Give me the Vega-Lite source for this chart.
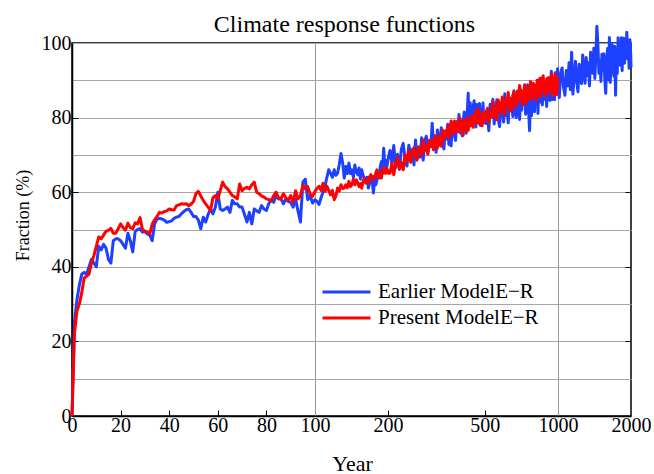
{
"$schema": "https://vega.github.io/schema/vega-lite/v6.json",
"width": 559, "height": 373,
"autosize": {"type": "none"},
"padding": {"left": 72, "top": 43, "right": 23, "bottom": 58},
"background": "white",
"title": {"text": "Climate response functions", "font": "Liberation Serif", "fontSize": 24, "fontWeight": "normal", "color": "black", "anchor": "middle", "frame": "group", "dx": -7, "dy": 31, "offset": 0, "baseline": "alphabetic"},
"config": {"view": {"stroke": "black", "strokeWidth": 1.5}, "font": "Liberation Serif"},
"data": {"values": [
{"t":0,"e":0,"p":0},{"t":1,"e":25,"p":22},{"t":2,"e":31,"p":28},{"t":3,"e":35,"p":30},{"t":4,"e":38,"p":33},{"t":5,"e":38.5,"p":37},{"t":6,"e":38,"p":37.5},{"t":7,"e":40,"p":38},{"t":8,"e":42,"p":41},{"t":9,"e":41,"p":43},
{"t":10,"e":40,"p":45.5},{"t":11,"e":45.5,"p":48},{"t":12,"e":44.5,"p":47.5},{"t":13,"e":46,"p":48.5},{"t":14,"e":45,"p":49.5},{"t":15,"e":42,"p":49.8},{"t":16,"e":41,"p":50.3},{"t":17,"e":47,"p":49},{"t":18,"e":47.5,"p":49},{"t":19,"e":47.5,"p":50.2},
{"t":20,"e":47,"p":51.5},{"t":21,"e":46,"p":50.5},{"t":22,"e":45,"p":49.8},{"t":23,"e":49,"p":51.7},{"t":24,"e":47,"p":50.5},{"t":25,"e":44,"p":50.2},{"t":26,"e":49.5,"p":51.8},{"t":27,"e":50,"p":51.5},{"t":28,"e":50.2,"p":53.2},{"t":29,"e":49.3,"p":50},
{"t":30,"e":49.5,"p":49.6},{"t":31,"e":48.8,"p":49.3},{"t":32,"e":48.5,"p":48.8},{"t":33,"e":47,"p":51.4},{"t":34,"e":51.5,"p":52.6},{"t":35,"e":52.8,"p":53.5},{"t":36,"e":53,"p":54.6},{"t":37,"e":52.8,"p":54.4},{"t":38,"e":52.5,"p":54.8},{"t":39,"e":51.9,"p":55},
{"t":40,"e":52.1,"p":55.5},{"t":41,"e":52.3,"p":55.3},{"t":42,"e":53,"p":55.2},{"t":43,"e":53.3,"p":56.4},{"t":44,"e":53.5,"p":56.6},{"t":45,"e":54.2,"p":56.9},{"t":46,"e":54.8,"p":56.8},{"t":47,"e":55.3,"p":56.9},{"t":48,"e":55.5,"p":56.4},{"t":49,"e":54.6,"p":56.8},
{"t":50,"e":53.5,"p":57.5},{"t":51,"e":53.5,"p":59.6},{"t":52,"e":52.5,"p":60.2},{"t":53,"e":50.2,"p":59},{"t":54,"e":53.3,"p":57.8},{"t":55,"e":52,"p":56.9},{"t":56,"e":54,"p":56},{"t":57,"e":55.5,"p":55.1},{"t":58,"e":54.2,"p":58.5},{"t":59,"e":56,"p":59.1},
{"t":60,"e":60,"p":58.2},{"t":61,"e":55.5,"p":60.4},{"t":62,"e":55.1,"p":62.7},{"t":63,"e":55.5,"p":61.5},{"t":64,"e":56,"p":60.9},{"t":65,"e":54.6,"p":60},{"t":66,"e":57.8,"p":59.1},{"t":67,"e":56.9,"p":58.7},{"t":68,"e":56.9,"p":58.2},{"t":69,"e":56,"p":62.2},
{"t":70,"e":56,"p":60.4},{"t":71,"e":54,"p":61},{"t":72,"e":52,"p":61.3},{"t":73,"e":54.6,"p":60.9},{"t":74,"e":51.5,"p":62},{"t":75,"e":55.5,"p":62.7},{"t":76,"e":55,"p":60},{"t":77,"e":54.6,"p":59.6},{"t":78,"e":56.4,"p":59},{"t":79,"e":55.5,"p":58.7},
{"t":80,"e":55.1,"p":58.2},{"t":81,"e":57,"p":58},{"t":82,"e":57.8,"p":57.8},{"t":83,"e":57.3,"p":59.1},{"t":84,"e":59.1,"p":60},{"t":85,"e":58.2,"p":58.5},{"t":86,"e":58.2,"p":58.2},{"t":87,"e":56.9,"p":59.6},{"t":88,"e":58.2,"p":58.5},{"t":89,"e":57.5,"p":57.8},
{"t":90,"e":57.3,"p":59.1},{"t":91,"e":56,"p":57.3},{"t":92,"e":58.2,"p":60.4},{"t":93,"e":55,"p":58.2},{"t":94,"e":52,"p":59},{"t":95,"e":62.7,"p":61.8},{"t":96,"e":63.5,"p":60.9},{"t":97,"e":58,"p":61.5},{"t":98,"e":59,"p":59.5},{"t":99,"e":57.1,"p":58.9},
{"t":100,"e":58,"p":60.2},{"t":102,"e":57.5,"p":61},{"t":104,"e":56.7,"p":61.6},{"t":106,"e":58.5,"p":60.5},{"t":108,"e":60,"p":62.4},{"t":110,"e":61.6,"p":60.2},{"t":112,"e":64,"p":61.6},{"t":114,"e":66,"p":60.5},{"t":116,"e":65.1,"p":59.3},{"t":118,"e":64,"p":60.5},
{"t":120,"e":66,"p":58},{"t":122,"e":64.5,"p":59},{"t":124,"e":65.1,"p":61.1},{"t":126,"e":67.5,"p":60.3},{"t":128,"e":70.4,"p":62},{"t":130,"e":67.8,"p":61},{"t":132,"e":63.8,"p":61.1},{"t":134,"e":66.9,"p":62},{"t":136,"e":65,"p":61.2},{"t":138,"e":67.8,"p":62.9},
{"t":140,"e":65,"p":61.5},{"t":142,"e":66,"p":62},{"t":144,"e":64,"p":63.5},{"t":146,"e":67.3,"p":62},{"t":148,"e":65.5,"p":63.3},{"t":150,"e":64.7,"p":62.5},{"t":152,"e":66.5,"p":61.5},{"t":154,"e":63.5,"p":62.3},{"t":156,"e":66,"p":61.1},{"t":158,"e":64.5,"p":62.9},
{"t":160,"e":63.8,"p":63.8},{"t":162,"e":62.5,"p":62.5},{"t":164,"e":64,"p":63.2},{"t":166,"e":61.1,"p":62.4},{"t":168,"e":62.5,"p":64.2},{"t":170,"e":64.2,"p":64.7},{"t":172,"e":63,"p":63.4},{"t":174,"e":59.8,"p":64.2},{"t":176,"e":63.3,"p":63.6},{"t":178,"e":62,"p":65.2},
{"t":180,"e":63.3,"p":66},{"t":182,"e":65.1,"p":64.5},{"t":184,"e":64,"p":63.8},{"t":186,"e":67,"p":65},{"t":188,"e":68.2,"p":63.8},{"t":190,"e":66,"p":66.4},{"t":192,"e":71.8,"p":65.1},{"t":194,"e":67,"p":66.4},{"t":196,"e":68.5,"p":65.1},{"t":198,"e":66.9,"p":66.3},
{"t":200,"e":69,"p":65.1},{"t":204,"e":71.2,"p":65.1},{"t":208,"e":67.8,"p":67.8},{"t":212,"e":72.5,"p":64.7},{"t":216,"e":66.6,"p":67.7},{"t":220,"e":70.2,"p":69.3},{"t":224,"e":66.1,"p":66.3},{"t":228,"e":71.5,"p":68},{"t":232,"e":73.1,"p":66},{"t":236,"e":68.9,"p":69.9},
{"t":240,"e":67,"p":68.3},{"t":244,"e":72.6,"p":71.2},{"t":248,"e":69.7,"p":68},{"t":252,"e":71.5,"p":70.5},{"t":256,"e":67.3,"p":71.9},{"t":260,"e":74,"p":69.6},{"t":264,"e":69.1,"p":68.6},{"t":268,"e":71.5,"p":72.2},{"t":272,"e":69.4,"p":71.7},{"t":276,"e":74.6,"p":69.9},
{"t":280,"e":68.6,"p":74},{"t":284,"e":73.8,"p":71.2},{"t":288,"e":75,"p":72.4},{"t":292,"e":70.5,"p":70.2},{"t":296,"e":73.4,"p":73.9},{"t":300,"e":72.2,"p":72.3},{"t":304,"e":78.5,"p":73.7},{"t":308,"e":71.9,"p":71.4},{"t":312,"e":75.1,"p":75.1},{"t":316,"e":70.7,"p":72.6},
{"t":320,"e":76.7,"p":71.8},{"t":324,"e":74.7,"p":75.1},{"t":328,"e":72.6,"p":74.2},{"t":332,"e":77.3,"p":72.3},{"t":336,"e":73.5,"p":76.6},{"t":340,"e":71.6,"p":74.1},{"t":344,"e":76.4,"p":76.2},{"t":348,"e":74.3,"p":75.4},{"t":352,"e":78.2,"p":77.6},{"t":356,"e":72.8,"p":74.5},
{"t":360,"e":76.3,"p":77.2},{"t":364,"e":72.4,"p":79.1},{"t":368,"e":77.4,"p":75.8},{"t":372,"e":78.5,"p":76.9},{"t":376,"e":75.2,"p":79.1},{"t":380,"e":73.9,"p":75.9},{"t":384,"e":78.9,"p":78.8},{"t":388,"e":76.3,"p":78.1},{"t":392,"e":80.8,"p":76.3},{"t":396,"e":75.9,"p":79.8},
{"t":400,"e":79,"p":77},{"t":404,"e":75.1,"p":78.9},{"t":408,"e":78.8,"p":75.3},{"t":412,"e":81.5,"p":79.3},{"t":416,"e":77.5,"p":77.4},{"t":420,"e":75.8,"p":76.5},{"t":424,"e":81.1,"p":80},{"t":428,"e":86.5,"p":76.6},{"t":432,"e":77.6,"p":79.1},{"t":436,"e":84,"p":77.8},
{"t":440,"e":79.6,"p":80.4},{"t":444,"e":77.9,"p":79.4},{"t":448,"e":82.8,"p":77.4},{"t":452,"e":84.5,"p":80.6},{"t":456,"e":81.9,"p":79.3},{"t":460,"e":77.5,"p":81.8},{"t":464,"e":83.5,"p":78.6},{"t":468,"e":81.1,"p":80.5},{"t":472,"e":79.2,"p":82.3},{"t":476,"e":83.8,"p":78.3},
{"t":480,"e":77.9,"p":80.8},{"t":484,"e":82.1,"p":79.8},{"t":488,"e":79.9,"p":77.8},{"t":492,"e":83.9,"p":81.3},{"t":496,"e":78.6,"p":80.1},{"t":500,"e":81,"p":79},
{"t":507,"e":78.4,"p":81.5},{"t":514,"e":81.2,"p":82.5},{"t":521,"e":76.5,"p":78.7},{"t":528,"e":83.6,"p":81.3},{"t":535,"e":80.1,"p":80.3},{"t":542,"e":84.9,"p":84.3},{"t":549,"e":78.3,"p":80.2},{"t":556,"e":82.7,"p":83},{"t":563,"e":84.8,"p":79.4},{"t":570,"e":79.7,"p":84.7},
{"t":577,"e":77.6,"p":83},{"t":584,"e":83.9,"p":81.4},{"t":591,"e":82.7,"p":85.5},{"t":598,"e":78.8,"p":82.3},{"t":605,"e":86.4,"p":80.8},{"t":612,"e":80.5,"p":85.1},{"t":619,"e":82.9,"p":83.3},{"t":626,"e":78.6,"p":86.7},{"t":633,"e":85.4,"p":82.1},{"t":640,"e":82.3,"p":85},
{"t":647,"e":84.8,"p":81.7},{"t":654,"e":80.3,"p":86},{"t":661,"e":87.2,"p":86.9},{"t":668,"e":82.2,"p":84.1},{"t":675,"e":80,"p":82.9},{"t":682,"e":86,"p":87.1},{"t":689,"e":83.9,"p":84.8},{"t":696,"e":79.5,"p":88.6},{"t":703,"e":87.5,"p":84.3},{"t":710,"e":82,"p":87},
{"t":717,"e":85.8,"p":83.5},{"t":724,"e":83.6,"p":86.5},{"t":731,"e":87.6,"p":88.8},{"t":738,"e":80.9,"p":85.3},{"t":745,"e":85.6,"p":83.8},{"t":752,"e":88.8,"p":88.2},{"t":759,"e":82,"p":87.4},{"t":766,"e":76.5,"p":85.1},{"t":773,"e":87.2,"p":89.7},{"t":780,"e":80.5,"p":86.6},
{"t":787,"e":86.3,"p":85.1},{"t":794,"e":85,"p":89.2},{"t":801,"e":81.6,"p":86.4},{"t":808,"e":88.6,"p":88.4},{"t":815,"e":83.7,"p":84.6},{"t":822,"e":87.6,"p":90},{"t":829,"e":81.1,"p":87.9},{"t":836,"e":89.3,"p":86.4},{"t":843,"e":85.9,"p":90.5},{"t":850,"e":84.2,"p":85.6},
{"t":857,"e":90.6,"p":89.3},{"t":864,"e":83.4,"p":87.6},{"t":871,"e":88,"p":91.2},{"t":878,"e":84.9,"p":86.8},{"t":885,"e":89.6,"p":89},{"t":892,"e":87.5,"p":85.8},{"t":899,"e":83,"p":90.4},{"t":906,"e":88.9,"p":87.9},{"t":913,"e":85.8,"p":90.7},{"t":920,"e":90.6,"p":86.9},
{"t":927,"e":84.6,"p":90.5},{"t":934,"e":88.5,"p":87.5},{"t":941,"e":92.4,"p":91.5},{"t":948,"e":84.8,"p":86.4},{"t":955,"e":90.1,"p":89.4},{"t":962,"e":88.4,"p":85.9},{"t":969,"e":84.8,"p":90.4},{"t":976,"e":92,"p":91.9},{"t":983,"e":89.8,"p":88},{"t":990,"e":87.8,"p":86.2},
{"t":997,"e":93.1,"p":90.7},{"t":1000,"e":88.7,"p":88},
{"t":1014,"e":85.4},{"t":1028,"e":92.1},{"t":1042,"e":93.3},{"t":1056,"e":88.2},{"t":1070,"e":86},{"t":1084,"e":92.6},{"t":1098,"e":88.5},{"t":1112,"e":94.7},{"t":1126,"e":87.5},{"t":1140,"e":97.5},
{"t":1154,"e":86.3},{"t":1168,"e":91.3},{"t":1182,"e":95.1},{"t":1196,"e":89.4},{"t":1210,"e":86.9},{"t":1224,"e":94.3},{"t":1238,"e":93},{"t":1252,"e":89.1},{"t":1266,"e":96.8},{"t":1280,"e":91.8},
{"t":1294,"e":89.2},{"t":1308,"e":96.1},{"t":1322,"e":91.3},{"t":1336,"e":94.7},{"t":1350,"e":88.5},{"t":1364,"e":97.5},{"t":1378,"e":94.2},{"t":1392,"e":91.9},{"t":1406,"e":98.6},{"t":1420,"e":90.5},
{"t":1434,"e":96.8},{"t":1448,"e":104.5},{"t":1462,"e":99.6},{"t":1476,"e":91.9},{"t":1490,"e":95.2},{"t":1504,"e":89.7},{"t":1518,"e":97},{"t":1532,"e":92.6},{"t":1546,"e":97.1},{"t":1560,"e":90.6},
{"t":1574,"e":86.5},{"t":1588,"e":95.5},{"t":1602,"e":98.5},{"t":1616,"e":90.1},{"t":1630,"e":101.5},{"t":1644,"e":89.4},{"t":1658,"e":97.1},{"t":1672,"e":99.6},{"t":1686,"e":93.6},{"t":1700,"e":91.1},
{"t":1714,"e":99.1},{"t":1728,"e":86},{"t":1742,"e":97.9},{"t":1756,"e":91.8},{"t":1770,"e":101.4},{"t":1784,"e":94.1},{"t":1798,"e":97.4},{"t":1812,"e":94.1},{"t":1826,"e":101.4},{"t":1840,"e":92.6},
{"t":1854,"e":99.8},{"t":1868,"e":101.3},{"t":1882,"e":94.6},{"t":1896,"e":98.5},{"t":1910,"e":96.6},{"t":1924,"e":102.9},{"t":1938,"e":95.7},{"t":1952,"e":100},{"t":1966,"e":93.2},{"t":1980,"e":100.9},
{"t":1994,"e":97.2},{"t":2000,"e":93.5}
]},
"transform": [{"fold": ["e", "p"], "as": ["series", "value"]}],
"encoding": {
  "x": {"field": "t", "type": "quantitative",
    "scale": {"domain": [0,100,110,120,130,140,150,170,180,200,250,300,350,400,450,500,600,700,800,900,1000,1100,1200,1300,1400,1500,1600,1700,1800,2000],
              "range": [0,243,253.05,262.23,270.68,278.49,285.77,298.98,305.01,316.12,339.66,358.89,375.16,389.24,401.67,412.78,432.01,448.27,462.36,474.79,485.9,495.96,505.13,513.57,521.39,528.67,535.48,541.88,547.91,559.02],
              "zero": false, "nice": false},
    "axis": {"values": [0,20,40,60,80,100,200,500,1000,2000], "format": "d", "title": "Year",
      "titleFont": "Liberation Serif", "titleFontSize": 22, "titleFontWeight": "normal", "titleColor": "black",
      "titleX": 280, "titleY": 54, "titleBaseline": "alphabetic", "titleAlign": "center",
      "labelFont": "Liberation Serif", "labelFontSize": 20, "labelColor": "black", "labelPadding": 5,
      "labelFlush": false, "labelOverlap": false, "labelBound": false,
      "domainColor": "black", "domainWidth": 1.5,
      "tickSize": -6, "tickColor": "black", "tickWidth": 1,
      "tickOpacity": {"condition": {"test": "datum.value == 0 || datum.value == 100 || datum.value >= 1000", "value": 0}, "value": 1},
      "grid": true, "gridColor": "#999999", "gridWidth": 1,
      "gridOpacity": {"condition": {"test": "datum.value == 100 || datum.value == 1000", "value": 1}, "value": 0}}}
},
"layer": [
  {"mark": {"type": "line", "strokeWidth": 3, "strokeJoin": "round", "clip": false},
   "encoding": {
     "y": {"field": "value", "type": "quantitative", "scale": {"domain": [0, 100], "nice": false},
       "axis": {"values": [0,10,20,30,40,50,60,70,80,90,100], "title": "Fraction (%)",
         "titleFont": "Liberation Serif", "titleFontSize": 18, "titleFontWeight": "normal", "titleColor": "black",
         "titleX": -49, "titleY": 172, "titleAngle": 270, "titleBaseline": "middle", "titleAlign": "center",
         "labelExpr": "datum.value % 20 == 0 ? datum.label : ''",
         "labelFont": "Liberation Serif", "labelFontSize": 20, "labelColor": "black", "labelPadding": 7,
         "domainColor": "black", "domainWidth": 1.5,
         "tickSize": -6, "tickColor": "black", "tickWidth": 1,
         "tickOpacity": {"condition": {"test": "datum.value % 20 != 0 || datum.value == 0 || datum.value == 100", "value": 0}, "value": 1},
         "grid": true, "gridColor": "#a6a6a6", "gridWidth": 1}},
     "color": {"field": "series", "type": "nominal",
       "scale": {"domain": ["e", "p"], "range": ["#1e40ff", "#ff0000"]},
       "legend": {"orient": "none", "legendX": 249, "legendY": 236, "title": null,
         "labelExpr": "datum.value == 'e' ? 'Earlier ModelE\u2212R' : 'Present ModelE\u2212R'",
         "labelFont": "Liberation Serif", "labelFontSize": 21, "labelColor": "black", "labelLimit": 400,
         "symbolType": "stroke", "symbolSize": 2304, "symbolStrokeWidth": 3,
         "clipHeight": 26, "rowPadding": 0, "labelOffset": 6, "padding": 0}}
   }},
  {"mark": {"type": "point", "opacity": 0, "clip": true},
   "encoding": {
     "y": {"field": "value", "type": "quantitative", "scale": {"domain": [0, 100], "nice": false},
       "axis": {"orient": "right", "values": [20,40,60,80], "labels": false, "title": null, "domain": false, "grid": false,
         "tickSize": -6, "tickColor": "black", "tickWidth": 1}}
   }}
],
"resolve": {"axis": {"y": "independent"}}
}
